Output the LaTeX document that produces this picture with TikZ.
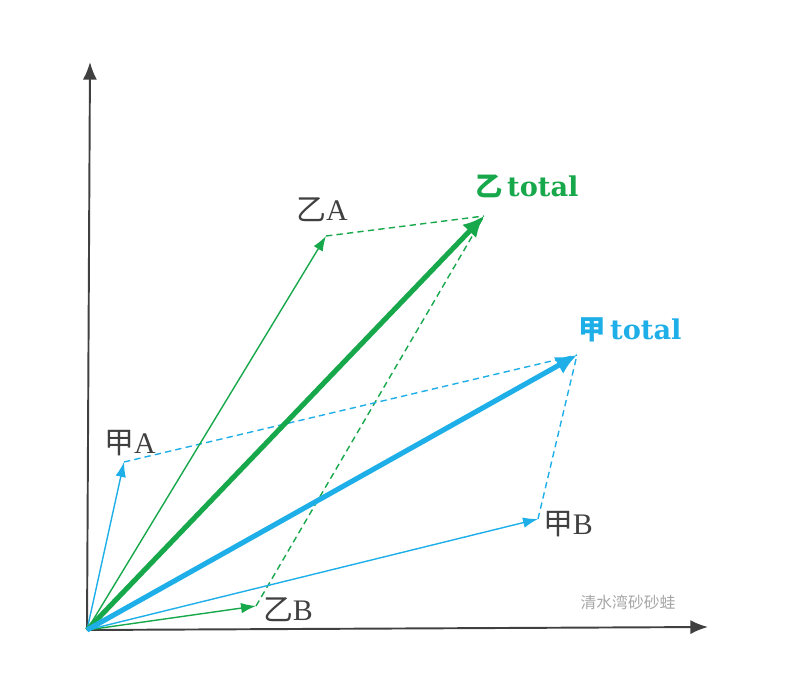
\documentclass[tikz,border=0pt]{standalone}
\usepackage{fontspec}
\setmainfont{Liberation Serif}
\newfontfamily\cjk{Noto Sans CJK SC}
\newfontfamily\totalfont{DejaVu Serif}
\usetikzlibrary{arrows.meta}
\definecolor{yigreen}{RGB}{24,168,76}
\definecolor{jiablue}{RGB}{30,174,232}
\definecolor{axisgray}{RGB}{64,64,64}
\tikzset{
  vec/.style={line width=0.8pt, -{Latex[length=8.5pt,width=6pt]}},
  total/.style={line width=2.9pt, -{Latex[length=12pt,width=11pt]}},
  sum/.style={line width=0.8pt, dash pattern=on 3.6pt off 2.4pt},
  lab/.style={font=\fontsize{17}{19}\selectfont, text=axisgray},
  totlab/.style={font=\fontsize{15.5}{18}\selectfont\bfseries}
}
\begin{document}
\begin{tikzpicture}[x=0.02cm, y=-0.02cm]
    \useasboundingbox (0,0) rectangle (792,700);

    % Axes
    \coordinate (O) at (87,630);
    \draw[axisgray, line width=1.1pt, -{Latex[length=10pt,width=8pt]}] (O) -- (90,62);
    \draw[axisgray, line width=1.1pt, -{Latex[length=10pt,width=8pt]}] (O) -- (708,627);

    % Tips of the vectors
    \coordinate (yiA) at (326,236);
    \coordinate (yiB) at (256,606);
    \coordinate (yiT) at (484,216);
    \coordinate (jiaA) at (124,462);
    \coordinate (jiaB) at (538,519);
    \coordinate (jiaT) at (577,355);

    % Parallelogram sides
    \draw[sum, yigreen] (yiA) -- (yiT);
    \draw[sum, yigreen] (yiB) -- (yiT);
    \draw[sum, jiablue] (jiaA) -- (jiaT);
    \draw[sum, jiablue] (jiaB) -- (jiaT);

    % Component vectors
    \draw[vec, yigreen] (O) -- (yiA);
    \draw[vec, yigreen] (O) -- (yiB);
    \draw[vec, jiablue] (O) -- (jiaA);
    \draw[vec, jiablue] (O) -- (jiaB);

    % Resultants
    \draw[total, yigreen] (O) -- (yiT);
    \draw[total, jiablue] (O) -- (jiaT);

    % Labels
    \node[lab] (labyiA) at (322,210) {{\cjk 乙}A};
    \node[lab] (labyiB) at (288,610) {{\cjk 乙}B};
    \node[lab] (labjiaA) at (130,443) {{\cjk 甲}A};
    \node[lab] (labjiaB) at (568,524) {{\cjk 甲}B};
    \node[totlab, text=yigreen] (labyiT) at (527,186) {{\cjk 乙}\,{\totalfont total}};
    \node[totlab, text=jiablue] (labjiaT) at (630,330) {{\cjk 甲}\,{\totalfont total}};

    % Watermark
    \node[gray!70, font=\cjk\fontsize{9}{10}\selectfont] (mark) at (628,602) {清水湾砂砂蛙};
\end{tikzpicture}
\end{document}
